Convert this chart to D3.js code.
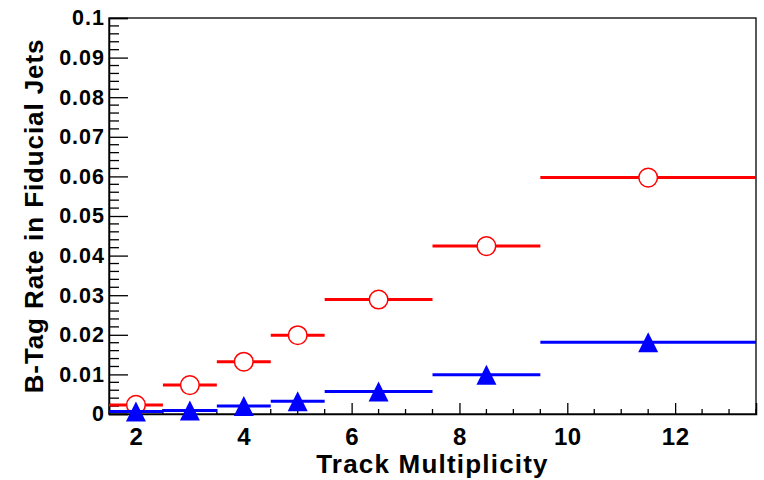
<!DOCTYPE html>
<html lang="en">
<head>
    <meta charset="UTF-8">
    <title>B-Tag Rate vs Track Multiplicity</title>
    <style>
        body { margin: 0; background: #fff; }
        text { font-family: "Liberation Sans", Arial, sans-serif; font-weight: bold; fill: #000; }
    </style>
</head>
<body>
<svg id="chart"></svg>

<script src="https://cdn.jsdelivr.net/npm/d3@7"></script>
<script>
    // bins of track multiplicity
    var binLow = [1.5, 2.5, 3.5, 4.5, 5.5, 7.5, 9.5];
    var binHigh = [2.5, 3.5, 4.5, 5.5, 7.5, 9.5, 13.5];
    var binCenter = [2, 3, 4, 5, 6.5, 8.5, 11.5];

    // open red circles
    var redRate = [0.0023, 0.0073, 0.0132, 0.0199, 0.0289, 0.0424, 0.0597];
    // filled blue triangles
    var blueRate = [0.0006, 0.0009, 0.0020, 0.0032, 0.0057, 0.0099, 0.0181];

    var xTicks = [2, 4, 6, 8, 10, 12];
    var yTicks = [0, 0.01, 0.02, 0.03, 0.04, 0.05, 0.06, 0.07, 0.08, 0.09, 0.1];

    var width = 764, height = 480;
    var margin = {top: 18, right: 8, bottom: 66, left: 109};
    var w = width - margin.left - margin.right;
    var h = height - margin.top - margin.bottom;

    var svg = d3.select("#chart").attr("width", width).attr("height", height);
    var g = svg.append("g").attr("transform", "translate(" + margin.left + "," + margin.top + ")");

    var x = d3.scaleLinear().domain([1.5, 13.5]).range([0, w]);
    var y = d3.scaleLinear().domain([0, 0.1]).range([h, 0]);

    // frame
    g.append("rect").attr("x", 0).attr("y", 0).attr("width", w).attr("height", h)
        .attr("fill", "none").attr("stroke", "#000").attr("stroke-width", 1.3);

    // x axis: major ticks + minor every 0.5, pointing inward
    var xMinor = d3.range(2, 13.51, 0.5).filter(function (v) { return xTicks.indexOf(v) < 0; });
    var xAxis = g.append("g").attr("transform", "translate(0," + h + ")");
    xAxis.call(d3.axisBottom(x).tickValues(xTicks).tickSize(-11).tickFormat(d3.format("d")));
    xAxis.selectAll("line.minor").data(xMinor).enter().append("line")
        .attr("class", "minor")
        .attr("x1", function (d) { return x(d); }).attr("x2", function (d) { return x(d); })
        .attr("y1", 0).attr("y2", -5).attr("stroke", "#000").attr("stroke-width", 1.3);
    xAxis.select(".domain").attr("stroke-width", 1.5);
    xAxis.selectAll(".tick line").attr("stroke-width", 1.3);
    xAxis.selectAll(".tick text").attr("font-size", 24).attr("letter-spacing", "0.5px")
        .attr("dy", "0.71em").attr("y", 14);

    // y axis: major 0.01, minor 0.002
    var yMinor = d3.range(0, 0.1001, 0.002).filter(function (v, i) { return i % 5 !== 0; });
    var yAxis = g.append("g");
    yAxis.call(d3.axisLeft(y).tickValues(yTicks).tickSize(-19).tickPadding(4)
        .tickFormat(function (d) { return d === 0 ? "0" : d3.format(".2~f")(d); }));
    yAxis.selectAll("line.minor").data(yMinor).enter().append("line")
        .attr("class", "minor")
        .attr("x1", 0).attr("x2", 10)
        .attr("y1", function (d) { return y(d); }).attr("y2", function (d) { return y(d); })
        .attr("stroke", "#000").attr("stroke-width", 1.3);
    yAxis.select(".domain").attr("stroke-width", 1.5);
    yAxis.selectAll(".tick line").attr("stroke-width", 1.3);
    yAxis.selectAll(".tick text").attr("font-size", 21.5).attr("letter-spacing", "1px");

    // axis titles
    g.append("text").attr("x", w / 2).attr("y", h + 59)
        .attr("text-anchor", "middle").attr("font-size", 26).attr("letter-spacing", "1.2px")
        .text("Track Multiplicity");
    svg.append("text")
        .attr("transform", "translate(43," + (margin.top + h / 2) + ") rotate(-90)")
        .attr("text-anchor", "middle").attr("font-size", 26).attr("letter-spacing", "0.9px")
        .text("B-Tag Rate in Fiducial Jets");

    function drawSeries(values, color, kind) {
        var data = values.map(function (v, i) {
            return {lo: binLow[i], hi: binHigh[i], c: binCenter[i], v: v};
        });
        var s = g.append("g");
        s.selectAll("line.bar").data(data).enter().append("line")
            .attr("x1", function (d) { return x(d.lo); })
            .attr("x2", function (d) { return x(d.hi); })
            .attr("y1", function (d) { return y(d.v); })
            .attr("y2", function (d) { return y(d.v); })
            .attr("stroke", color).attr("stroke-width", 3);
        if (kind === "circle") {
            s.selectAll("circle").data(data).enter().append("circle")
                .attr("cx", function (d) { return x(d.c); })
                .attr("cy", function (d) { return y(d.v); })
                .attr("r", 9.3)
                .attr("fill", "#fff").attr("stroke", color).attr("stroke-width", 1.5);
        } else {
            s.selectAll("path").data(data).enter().append("path")
                .attr("d", function (d) {
                    var cx = x(d.c), cy = y(d.v);
                    return "M" + (cx - 10) + "," + (cy + 10) + "L" + (cx + 10) + "," + (cy + 10) +
                        "L" + cx + "," + (cy - 10) + "Z";
                })
                .attr("fill", color);
        }
    }

    drawSeries(redRate, "#ff0000", "circle");
    drawSeries(blueRate, "#0000ff", "triangle");
</script>
</body>
</html>
